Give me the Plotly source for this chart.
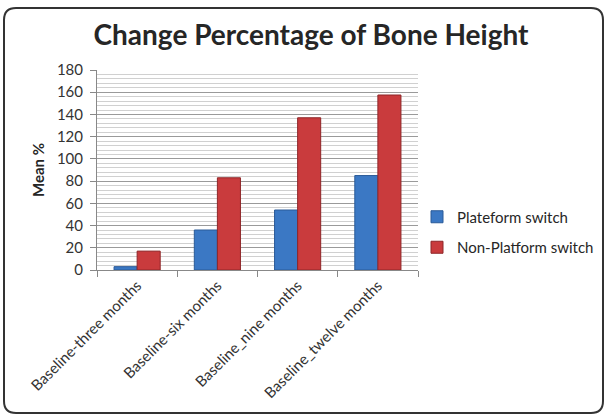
import plotly.graph_objects as go

categories = ["Baseline-three months", "Baseline-six months", "Baseline_nine months", "Baseline_twelve months"]
platform_switch = [3, 36, 54, 85]
non_platform_switch = [17, 83, 137, 157.5]
series_names = ["Plateform switch", "Non-Platform switch"]
y_ticks = [0, 20, 40, 60, 80, 100, 120, 140, 160, 180]

W, H = 604, 417
L, R, T, B = 97, 418, 70, 270

def px(x):
    return (x - L) / (R - L)

def py(y):
    return (B - y) / (B - T)

fig = go.Figure()
fig.add_trace(go.Bar(x=categories, y=platform_switch, name=series_names[0],
                     marker=dict(color="#3b78c4", line=dict(color="#2a5a98", width=1)),
                     legendgroup="a"))
fig.add_trace(go.Bar(x=categories, y=non_platform_switch, name=series_names[1],
                     marker=dict(color="#c93b3d", line=dict(color="#8e2628", width=1)),
                     legendgroup="b"))

# rounded frame
x0, x1, y0, y1, r = px(4), px(603), py(8), py(413), 12
rx = r / (R - L)
ry = r / (B - T)
path = (f"M {x0+rx},{y0} L {x1-rx},{y0} Q {x1},{y0} {x1},{y0-ry} "
        f"L {x1},{y1+ry} Q {x1},{y1} {x1-rx},{y1} L {x0+rx},{y1} "
        f"Q {x0},{y1} {x0},{y1+ry} L {x0},{y0-ry} Q {x0},{y0} {x0+rx},{y0} Z")

fig.update_layout(
    width=W, height=H,
    margin=dict(l=L, r=W - R, t=T, b=H - B, pad=0, autoexpand=False),
    paper_bgcolor="white", plot_bgcolor="white",
    font=dict(family="Lato, Open Sans, sans-serif", color="#333333"),
    title=dict(text="<b>Change Percentage of Bone Height</b>", x=311 / W, xanchor="center",
               y=1 - 35 / H, yanchor="middle",
               font=dict(size=28, color="#262626", family="Lato, sans-serif")),
    barmode="group", bargap=0.425, bargroupgap=0,
    showlegend=True,
    legend=dict(xref="container", yref="container", x=417 / W, y=1 - 232 / H,
                xanchor="left", yanchor="middle",
                font=dict(size=15, color="#262626"), tracegroupgap=8,
                itemwidth=30, bgcolor="rgba(0,0,0,0)"),
    shapes=[dict(type="path", path=path, xref="paper", yref="paper",
                 line=dict(color="#333333", width=2), layer="above")],
)

fig.update_yaxes(range=[0, 180], tickvals=y_ticks, ticks="outside", ticklen=6,
                 tickcolor="#888888", showline=True, linecolor="#888888", linewidth=1,
                 showgrid=True, gridcolor="#9a9a9a", gridwidth=1,
                 minor=dict(dtick=4, showgrid=True, gridcolor="#d0d0d0", gridwidth=1, ticks=""),
                 tickfont=dict(size=15, color="#333333"), zeroline=False,
                 ticklabelstandoff=4, automargin=False,
                 title=dict(text="<b>Mean %</b>", font=dict(size=15, color="#262626"), standoff=8))
fig.update_xaxes(ticks="outside", tickson="boundaries", ticklen=6, tickcolor="#888888",
                 showline=True, linecolor="#888888", linewidth=1, tickangle=-45,
                 automargin=False,
                 tickfont=dict(size=15, color="#333333"))

fig.write_html("out.html")
